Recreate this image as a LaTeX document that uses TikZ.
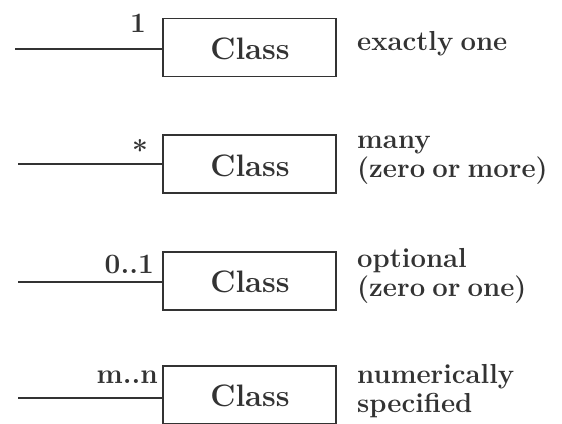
\documentclass[tikz,border=0pt]{standalone}
\usepackage{fontspec}
\setmainfont{Latin Modern Roman}
\usepackage{tikz}
\newcommand\mydescfont{\fontsize{27.5}{28}\selectfont\bfseries\spaceskip=0.26em\relax}
\begin{document}
\begin{tikzpicture}[x=1pt,y=-1pt,
  classbox/.style={draw=black!80,line width=1.2pt,minimum width=173pt,minimum height=58pt,inner sep=0pt},
  classtext/.style={anchor=base,inner sep=0pt,font=\fontsize{31}{31}\selectfont\bfseries,text=black!80},
  assoc/.style={draw=black!80,line width=1.2pt},
  mult/.style={anchor=base east,inner sep=0pt,font=\fontsize{28}{28}\selectfont\bfseries,text=black!80},
  desc/.style={anchor=base west,inner sep=0pt,font=\mydescfont,text=black!80}]
\useasboundingbox (0,0) rectangle (562,423);
\clip (0,0) rectangle (562,423);
% row 1
\node[classbox] (c1) at (249.5,47.5) {};
\node[classtext] (t1) at (250,59) {Class};
\coordinate (l1) at (15,49);
\draw[assoc] (l1) -- (c1.west |- l1);
\node[mult] (m1) at (146,32) {1};
\node[desc] (d1) at (357,50) {exactly one};
% row 2
\node[classbox] (c2) at (249.5,164) {};
\node[classtext] (t2) at (250,176) {Class};
\coordinate (l2) at (18,164);
\draw[assoc] (l2) -- (c2.west |- l2);
\node[mult] (m2) at (148,160) {*};
\node[desc] (d2a) at (357,148) {many};
\node[desc] (d2b) at (357,177) {(zero or more)};
% row 3
\node[classbox] (c3) at (249.5,281) {};
\node[classtext] (t3) at (250,292) {Class};
\coordinate (l3) at (18,282);
\draw[assoc] (l3) -- (c3.west |- l3);
\node[mult] (m3) at (154,273) {0..1};
\node[desc] (d3a) at (357,267) {optional};
\node[desc] (d3b) at (357,296) {(zero or one)};
% row 4
\node[classbox] (c4) at (249.5,395) {};
\node[classtext] (t4) at (250,406) {Class};
\coordinate (l4) at (18,398);
\draw[assoc] (l4) -- (c4.west |- l4);
\node[mult] (m4) at (158,383) {m..n};
\node[desc] (d4a) at (357,383) {numerically};
\node[desc] (d4b) at (357,412) {specified};
\end{tikzpicture}
\end{document}
